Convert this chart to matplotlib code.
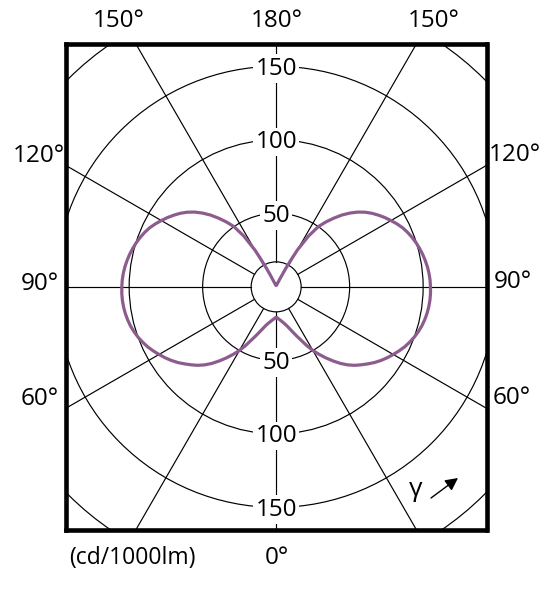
import numpy as np
import matplotlib
matplotlib.use("Agg")
import matplotlib.pyplot as plt
from matplotlib.patches import Circle

# ---- data ----
gamma_deg = [0, 2.5, 5, 7.5, 10, 12.5, 15, 17.5, 20, 22.5, 25, 27.5, 30, 32.5, 35, 37.5,
             40, 42.5, 45, 47.5, 50, 52.5, 55, 57.5, 60, 62.5, 65, 67.5, 70, 72.5, 75,
             77.5, 80, 82.5, 85, 87.5, 90, 92.5, 95, 97.5, 100, 102.5, 105, 107.5, 110,
             112.5, 115, 117.5, 120, 122.5, 125, 127.5, 130, 132.5, 135, 137.5, 140,
             142.5, 145, 147.5, 150, 151, 152.5, 154, 155.5, 157.5, 160, 165, 170, 180]
intensity = [21, 21.3, 22, 23, 24.2, 25.5, 27.2, 29.5, 32.5, 36, 40, 45, 50, 54.5, 59, 63.5,
             68, 72, 75.5, 78.5, 81.5, 84.5, 87.2, 89.7, 92, 94.3, 96.5, 98.3, 100, 101.4,
             102.6, 103.5, 104.2, 104.7, 105, 105.1, 105, 104.8, 104.4, 103.8, 103, 102.1,
             101, 99.8, 98.4, 96.8, 95, 92.7, 90.2, 87.7, 85, 82.2, 79, 75.3, 71, 66.3, 61,
             55.7, 50, 41, 29, 22, 14, 8, 5, 3, 2, 1.5, 1, 1]

ring_values = [50, 100, 150, 200]
ring_label_values = [50, 100, 150]
inner_ring = 17
spoke_angles = [0, 30, 60, 90, 120, 150, 180]
unit_label = "(cd/1000lm)"
gamma_label = "γ"

# angle labels: (text, x_px, y_px)
angle_labels = [
    ("150°", 119, 21), ("180°", 277, 21), ("150°", 434, 21),
    ("120°", 39, 156), ("90°", 40, 284), ("60°", 40, 399),
    ("120°", 515, 155), ("90°", 513, 282), ("60°", 512, 398),
    ("0°", 277, 558),
]

W, H = 557, 596
plt.rcParams['font.family'] = ['Open Sans', 'DejaVu Sans']
fig = plt.figure(figsize=(W / 100, H / 100), dpi=100)

# axes box in pixels
bx0, bx1, by0, by1 = 65.8, 486.5, 44.2, 529.5
ax = fig.add_axes([bx0 / W, 1 - by1 / H, (bx1 - bx0) / W, (by1 - by0) / H])
scale = 1.47  # px per unit
hx = (bx1 - bx0) / 2 / scale
hy = (by1 - by0) / 2 / scale
ax.set_xlim(-hx, hx)
ax.set_ylim(-hy, hy)
ax.set_xticks([])
ax.set_yticks([])
for s in ax.spines.values():
    s.set_linewidth(3.3)
    s.set_color('black')
    s.set_zorder(10)

grid_kw = dict(color='black', lw=0.85, zorder=1)

# rings
for rv in ring_values:
    ax.add_patch(Circle((0, 0), rv, fill=False, ec='black', lw=0.85, zorder=1))
ax.add_patch(Circle((0, 0), inner_ring, fill=False, ec='black', lw=0.85, zorder=1))

# spokes
for a in spoke_angles:
    t = np.deg2rad(a)
    for sgn in ([1] if a in (0, 180) else [1, -1]):
        xs = [sgn * inner_ring * np.sin(t), sgn * 400 * np.sin(t)]
        ys = [-inner_ring * np.cos(t), -400 * np.cos(t)]
        ax.plot(xs, ys, **grid_kw)

# ring labels on vertical axis
for rv in ring_label_values:
    for sgn in (1, -1):
        ax.text(0, sgn * rv - 1.5, str(rv), ha='center', va='center', fontsize=17.5,
                zorder=3, bbox=dict(fc='white', ec='none', pad=1.5))

# intensity curve (symmetric)
g = np.deg2rad(np.array(gamma_deg, dtype=float))
r = np.array(intensity, dtype=float)
x_right = r * np.sin(g)
y_right = -r * np.cos(g)
x = np.concatenate([x_right, -x_right[::-1]])
y = np.concatenate([y_right, y_right[::-1]])
ax.plot(x, y, color='#8d5c8f', lw=2.3, zorder=4, solid_joinstyle='round')

# angle labels around the box
for txt, px, py in angle_labels:
    fig.text(px / W, 1 - py / H, txt, ha='center', va='center', fontsize=17.5)
fig.text(132 / W, 1 - 558 / H, unit_label, ha='center', va='center', fontsize=16.5)

# gamma arrow
fig.text(416 / W, 1 - 489 / H, gamma_label, ha='center', va='center', fontsize=19)
ax.annotate('', xy=((458 - bx0) / (bx1 - bx0), 1 - (478 - by0) / (by1 - by0)),
            xytext=((431 - bx0) / (bx1 - bx0), 1 - (498 - by0) / (by1 - by0)),
            xycoords='axes fraction', textcoords='axes fraction',
            arrowprops=dict(arrowstyle='-|>,head_length=0.75,head_width=0.38',
                            color='black', lw=1.0, shrinkA=0, shrinkB=0), zorder=5)

fig.savefig('out.png', dpi=100, facecolor='white')
